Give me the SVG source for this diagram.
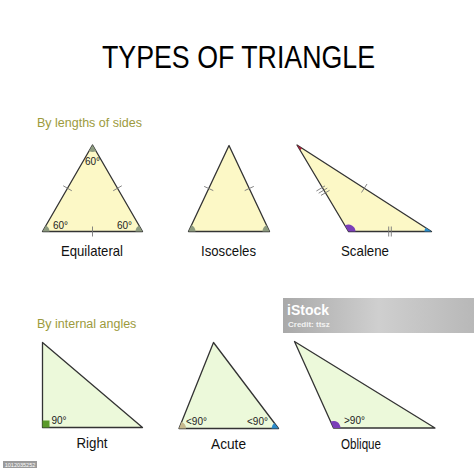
<svg xmlns="http://www.w3.org/2000/svg" width="474" height="474" viewBox="0 0 474 474">
<defs>
<style>
.tri{stroke:#333;stroke-width:1.3;stroke-linejoin:round}
.y{fill:#fcf8c6}
.g{fill:#ecf9da}
.tick{stroke:#777;stroke-width:0.9;fill:none}
.lbl{font-family:"Liberation Sans",Arial,sans-serif;font-size:14.5px;fill:#111;text-anchor:middle}
.ang{font-family:"Liberation Sans",Arial,sans-serif;font-size:10px;fill:#222}
.sec{font-family:"Liberation Sans",Arial,sans-serif;font-size:12.5px;fill:#9c9a3c}
.mk{fill:#8e9c80}
</style>
<linearGradient id="wm" x1="0" y1="0" x2="1" y2="0">
<stop offset="0" stop-color="#a9a9a9"/>
<stop offset="0.5" stop-color="#cfcfcf"/>
<stop offset="1" stop-color="#b8b8b8"/>
</linearGradient>
</defs>
<rect width="474" height="474" fill="#fff"/>
<text x="238.5" y="67.5" font-family="'Liberation Sans',Arial,sans-serif" font-size="32" fill="#000" text-anchor="middle" textLength="273" lengthAdjust="spacingAndGlyphs">TYPES OF TRIANGLE</text>
<text class="sec" x="37" y="127">By lengths of sides</text>
<text class="sec" x="37" y="328">By internal angles</text>

<g id="equilateral">
<path class="tri y" d="M92.5 145 L42.5 231.5 L142.5 231.5 Z"/>
<path class="mk" d="M92.5 145 L89 151.06 A7 7 0 0 0 96 151.06 Z"/>
<path class="mk" d="M42.5 231.5 L49.5 231.5 A7 7 0 0 0 46 225.44 Z"/>
<path class="mk" d="M142.5 231.5 L135.5 231.5 A7 7 0 0 1 139 225.44 Z"/>
<path class="tick" d="M63.2 185.75 L71.8 190.75 M113.2 190.75 L121.8 185.75 M92.5 226.5 L92.5 236.5"/>
<text class="ang" x="85" y="165">60°</text>
<text class="ang" x="53" y="229">60°</text>
<text class="ang" x="117" y="229">60°</text>
<text class="lbl" x="92" y="256" textLength="62" lengthAdjust="spacingAndGlyphs">Equilateral</text>
</g>

<g id="isosceles">
<path class="tri y" d="M229 145.5 L188.5 231.5 L269.5 231.5 Z"/>
<path class="mk" d="M188.5 231.5 L195.5 231.5 A7 7 0 0 0 191.5 225.2 Z"/>
<path class="mk" d="M269.5 231.5 L262.5 231.5 A7 7 0 0 1 266.5 225.2 Z"/>
<path class="tick" d="M204.2 186.4 L213.3 190.6 M244.7 190.6 L253.8 186.4"/>
<text class="lbl" x="228.5" y="256" textLength="55" lengthAdjust="spacingAndGlyphs">Isosceles</text>
</g>

<g id="scalene">
<path class="tri y" d="M297 145 L348.5 231.5 L431.5 231.5 Z"/>
<path fill="#a3213c" d="M297 145 L300.07 150.15 A6 6 0 0 0 302.05 148.25 Z"/>
<path fill="#7b3fb8" d="M348.5 231.5 L344.92 225.49 A7 7 0 0 1 355.5 231.5 Z"/>
<path fill="#2b8bc9" d="M431.5 231.5 L424.5 231.5 A7 7 0 0 1 425.61 227.71 Z"/>
<path class="tick" d="M316.4 191.0 L325.0 185.9 M318.7 193.2 L327.3 188.1 M321.0 195.4 L329.6 190.3"/>
<path class="tick" d="M361.5 192.5 L367.0 184.0"/>
<path class="tick" d="M388.7 226.5 L388.7 236.5 M391.3 226.5 L391.3 236.5"/>
<text class="lbl" x="365" y="256" textLength="48" lengthAdjust="spacingAndGlyphs">Scalene</text>
</g>

<g id="right">
<path class="tri g" d="M42.5 342.5 L42.5 427.5 L142.5 427.5 Z"/>
<rect x="42.5" y="420.5" width="7" height="7" fill="#5a9a2a"/>
<text class="ang" x="51.5" y="424">90°</text>
<text class="lbl" x="92" y="448" textLength="31" lengthAdjust="spacingAndGlyphs">Right</text>
</g>

<g id="acute">
<path class="tri g" d="M213.5 342.5 L179 428.5 L278.5 428.5 Z"/>
<path fill="#c6b98e" d="M179 428.5 L186 428.5 A7 7 0 0 0 181.6 422 Z"/>
<path fill="#2b8bc9" d="M278.5 428.5 L271.5 428.5 A7 7 0 0 1 274.28 422.91 Z"/>
<text class="ang" x="186" y="425">&lt;90°</text>
<text class="ang" x="247" y="425">&lt;90°</text>
<text class="lbl" x="228.5" y="448.5" textLength="35" lengthAdjust="spacingAndGlyphs">Acute</text>
</g>

<g id="oblique">
<path class="tri g" d="M294.5 341.5 L333.5 428 L435 428 Z"/>
<path fill="#7b3fb8" d="M333.5 428 L330.62 421.62 A7 7 0 0 1 340.5 428 Z"/>
<text class="ang" x="344" y="423.5">&gt;90°</text>
<text class="lbl" x="361" y="448.5" textLength="40" lengthAdjust="spacingAndGlyphs">Oblique</text>
</g>

<g id="watermark">
<rect x="283" y="298" width="191" height="35" fill="url(#wm)"/>
<text x="287" y="315" font-family="'Liberation Sans',Arial,sans-serif" font-size="14" font-weight="bold" fill="#fff">iStock</text>
<text x="288" y="327" font-family="'Liberation Sans',Arial,sans-serif" font-size="8" font-weight="bold" fill="#f2f2f2">Credit: ttsz</text>
<rect x="3" y="461" width="34" height="7" fill="#9a9a9a"/>
<text x="20" y="466.5" font-family="'Liberation Sans',Arial,sans-serif" font-size="5.5" fill="#fff" text-anchor="middle">1012035252</text>
</g>
</svg>
